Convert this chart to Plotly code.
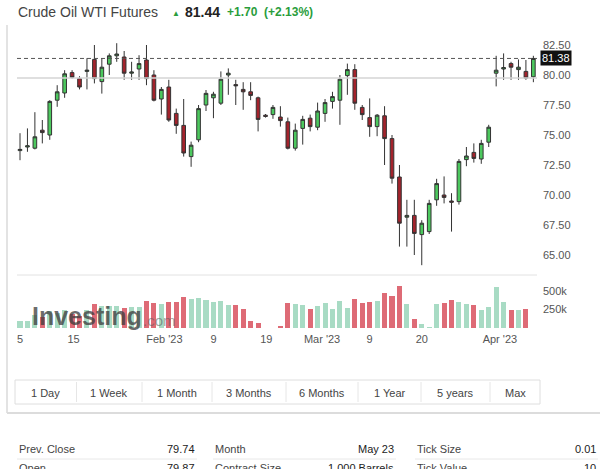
import plotly.graph_objects as go

# ---------------- data ----------------
opens = [73.7, 74.0, 73.9, 75.4, 75.0, 77.9, 78.5, 80.2, 79.7, 80.3,
         81.3, 79.45, 80.9, 81.6, 81.5, 80.15, 80.5, 81.25, 80.0, 78.0,
         79.0, 76.8, 75.8, 73.2, 74.6, 77.5, 78.1, 77.65, 80.0, 79.2,
         78.8, 78.6, 78.1, 76.65, 76.7, 76.5, 76.1, 73.9, 75.55, 76.4,
         75.65, 76.8, 77.8, 77.9, 79.95, 80.45, 77.3, 76.45, 75.7, 76.6,
         74.7, 71.5, 68.15, 68.3, 66.7, 66.95, 69.6, 70.0, 69.5, 69.45,
         72.95, 73.55, 73.0, 74.4, 80.15, 80.5, 80.95, 80.45, 80.3, 79.85]
highs = [75.15, 75.55, 76.9, 76.25, 77.9, 79.15, 80.4, 80.4, 79.9, 81.4,
         82.5, 81.4, 81.8, 82.65, 82.0, 81.1, 81.65, 82.5, 80.4, 79.0,
         79.6, 77.2, 78.0, 74.45, 77.5, 78.75, 78.6, 80.3, 80.55, 79.6,
         79.4, 79.4, 78.2, 76.75, 77.5, 77.4, 76.45, 75.95, 76.6, 76.7,
         77.7, 78.0, 78.6, 80.0, 80.95, 80.9, 77.5, 78.05, 76.75, 77.4,
         75.0, 72.5, 69.6, 69.6, 67.9, 69.6, 71.35, 71.55, 70.15, 73.0,
         74.0, 74.3, 74.6, 75.85, 81.6, 81.8, 81.1, 81.3, 81.25, 81.6]
lows = [72.9, 73.6, 73.8, 74.3, 74.6, 77.35, 78.1, 79.7, 78.8, 78.8,
        79.3, 78.45, 80.0, 81.1, 79.6, 79.6, 79.6, 79.15, 77.8, 76.7,
        76.1, 75.1, 73.2, 72.35, 74.4, 77.0, 76.4, 77.5, 78.35, 77.5,
        77.1, 77.9, 75.3, 76.45, 76.35, 75.7, 73.8, 73.7, 74.2, 75.3,
        75.4, 76.1, 77.2, 75.85, 78.35, 77.1, 76.25, 74.85, 74.9, 72.5,
        70.95, 65.7, 65.7, 65.0, 64.15, 66.75, 69.1, 69.3, 66.95, 69.2,
        72.4, 72.7, 72.6, 74.0, 79.05, 79.6, 79.6, 79.6, 79.6, 79.4]
closes = [73.8, 74.1, 74.85, 75.2, 77.8, 78.6, 80.1, 79.8, 79.0, 80.4,
          79.7, 80.65, 81.6, 81.75, 80.15, 80.25, 80.95, 79.7, 77.9, 78.8,
          76.25, 75.8, 73.5, 74.15, 77.2, 78.47, 78.4, 79.65, 80.15, 79.1,
          78.6, 78.3, 76.3, 76.55, 77.3, 76.2, 73.9, 75.4, 76.3, 75.7,
          77.0, 77.7, 78.2, 79.65, 80.45, 77.65, 76.7, 75.7, 76.65, 74.7,
          71.4, 67.65, 68.3, 66.8, 67.65, 69.3, 70.95, 69.8, 69.4, 72.8,
          73.25, 73.05, 74.3, 75.65, 80.4, 80.62, 80.65, 80.65, 79.74, 81.38]
volumes_k = [96, 90, 180, 150, 230, 200, 240, 190, 160, 250,
             324, 300, 300, 300, 277, 287, 287, 369, 332, 324,
             355, 355, 423, 392, 406, 378, 346, 360, 314, 310,
             255, 96, 72, 0, 0, 14, 332, 324, 310, 255,
             300, 337, 255, 369, 277, 392, 337, 346, 369, 469,
             437, 574, 324, 119, 50, 5, 324, 337, 378, 355,
             324, 314, 242, 287, 560, 346, 242, 242, 255, None]

date_tick_pos = [0, 7.2, 19.4, 26, 33.1, 40.6, 47, 54, 64.5, 69.9]
date_tick_text = ["5", "15", "Feb '23", "9", "19", "Mar '23", "9", "20", "Apr '23", "·"]
price_ticks = [65.0, 67.5, 70.0, 72.5, 75.0, 77.5, 80.0, 82.5]
vol_ticks = [250000, 500000]
vol_tick_text = ["250k", "500k"]
last_price = 81.38
prev_close = 79.74

buttons = ["1 Day", "1 Week", "1 Month", "3 Months", "6 Months", "1 Year", "5 years", "Max"]
table_row1 = [("Prev. Close", "79.74"), ("Month", "May 23"), ("Tick Size", "0.01")]
table_row2 = [("Open", "79.87"), ("Contract Size", "1,000 Barrels"), ("Tick Value", "10")]

# ---------------- geometry helpers ----------------
W, H = 600, 469
def fx(p):
    return p / W
def fy(p):
    return 1 - p / H

GREEN = "#4cc85e"
RED = "#a3232c"
VGREEN = "#a8dbc4"
VRED = "#de6b76"
TXT = "#555555"

idx = list(range(len(closes)))
volumes = [None if v is None else v * 1000 for v in volumes_k]
vcolors = [VGREEN if c >= o else VRED for o, c in zip(opens, closes)]

fig = go.Figure()
fig.add_trace(go.Candlestick(
    x=idx, open=opens, high=highs, low=lows, close=closes,
    increasing=dict(fillcolor=GREEN, line=dict(color="#333333", width=1)),
    decreasing=dict(fillcolor=RED, line=dict(color="#333333", width=1)),
    whiskerwidth=0, showlegend=False, hoverinfo="skip",
    xaxis="x", yaxis="y"))
fig.add_trace(go.Bar(
    x=idx, y=volumes, marker=dict(color=vcolors, line=dict(width=0)),
    width=0.68, showlegend=False, hoverinfo="skip", xaxis="x", yaxis="y2"))

# pixel layout
plot_l, plot_r = 17, 537
price_top, price_bot = 30, 275
vol_top, vol_bot = 282, 328
px_per_unit = 12.0        # pixels per dollar
y80 = 75                  # pixel of 80.00
ptop = 80 + (y80 - price_top) / px_per_unit
pbot = 80 - (price_bot - y80) / px_per_unit
vol_px_per_250k = 18.5
vmax = (vol_bot - vol_top) / vol_px_per_250k * 250000
step = 7.44
x0 = -(20 - plot_l) / step
x1 = x0 + (plot_r - plot_l) / step

axis_font = dict(family="Arial, Liberation Sans, sans-serif", size=11, color=TXT)

fig.update_layout(
    width=W, height=H, margin=dict(l=0, r=0, t=0, b=0),
    paper_bgcolor="white", plot_bgcolor="white",
    bargap=0,
    xaxis=dict(domain=[fx(plot_l), fx(plot_r)], range=[x0, x1], anchor="y2",
               tickvals=date_tick_pos, ticktext=date_tick_text, tickfont=axis_font,
               showgrid=False, zeroline=False, showline=False, ticks="",
               ticklabelstandoff=3,
               rangeslider=dict(visible=False), fixedrange=True),
    yaxis=dict(domain=[fy(price_bot), fy(price_top)], range=[pbot, ptop], side="right",
               anchor="x", tickvals=price_ticks, ticktext=[f"{v:.2f}" for v in price_ticks],
               tickfont=axis_font, showgrid=False, zeroline=False, showline=False,
               ticks="", ticklabelstandoff=5),
    yaxis2=dict(domain=[fy(vol_bot), fy(vol_top)], range=[0, vmax], side="right",
                anchor="x", tickvals=vol_ticks, ticktext=vol_tick_text, tickfont=axis_font,
                showgrid=False, zeroline=False, showline=False, ticks="",
                ticklabelstandoff=5),
    font=dict(family="Arial, Liberation Sans, sans-serif"),
)

shapes = []
# last price dashed line
shapes.append(dict(type="line", xref="paper", yref="y", x0=fx(plot_l), x1=fx(plot_r),
                   y0=last_price, y1=last_price, line=dict(color="#555", width=1, dash="4px,3px")))
# prev close line
shapes.append(dict(type="line", xref="paper", yref="y", x0=fx(plot_l), x1=fx(plot_r),
                   y0=prev_close, y1=prev_close, line=dict(color="#d4d4d4", width=1.5)))
# separator between panes
shapes.append(dict(type="line", xref="paper", yref="paper", x0=fx(plot_l), x1=fx(plot_r),
                   y0=fy(275), y1=fy(275), line=dict(color="#e2e2e2", width=1)))
# page container borders
shapes.append(dict(type="line", xref="paper", yref="paper", x0=fx(7), x1=fx(7),
                   y0=fy(25), y1=fy(413), line=dict(color="#e3e3e3", width=2)))
shapes.append(dict(type="line", xref="paper", yref="paper", x0=fx(7), x1=1,
                   y0=fy(413), y1=fy(413), line=dict(color="#dcdcdc", width=2)))
# buttons box
bx0, bx1, by0, by1 = 15, 540, 380, 404
shapes.append(dict(type="rect", xref="paper", yref="paper", x0=fx(bx0), x1=fx(bx1),
                   y0=fy(by1), y1=fy(by0), line=dict(color="#dedede", width=1),
                   fillcolor="white", layer="below"))
seps = [76.5, 142, 212, 286, 358, 421, 490]
for s in seps:
    shapes.append(dict(type="line", xref="paper", yref="paper", x0=fx(s), x1=fx(s),
                       y0=fy(by1 - 2), y1=fy(by0 + 2), line=dict(color="#e6e6e6", width=1)))
# table underlines
col_ranges = [(17, 197), (213, 396), (415, 598)]
for a, b in col_ranges:
    shapes.append(dict(type="line", xref="paper", yref="paper", x0=fx(a), x1=fx(b),
                       y0=fy(459), y1=fy(459), line=dict(color="#e8e8e8", width=1)))
fig.update_layout(shapes=shapes)

ann = []
# title
ann.append(dict(xref="paper", yref="paper", x=fx(16), y=fy(12), xanchor="left", yanchor="middle",
                text="Crude Oil WTI Futures", showarrow=False,
                font=dict(size=14, color="#444")))
ann.append(dict(xref="paper", yref="paper", x=fx(170), y=fy(13), xanchor="left", yanchor="middle",
                text="▲", showarrow=False, font=dict(size=8, color="#2a9d3c")))
ann.append(dict(xref="paper", yref="paper", x=fx(183), y=fy(12), xanchor="left", yanchor="middle",
                text="<b>81.44</b>", showarrow=False, font=dict(size=14, color="#222")))
ann.append(dict(xref="paper", yref="paper", x=fx(225), y=fy(12), xanchor="left", yanchor="middle",
                text="<b>+1.70  (+2.13%)</b>", showarrow=False, font=dict(size=12, color="#2a9d3c")))
# last price label
ann.append(dict(xref="paper", yref="y", x=fx(540), y=last_price, xanchor="left", yanchor="middle",
                text="81.38", showarrow=False, bgcolor="#111111", borderpad=1,
                font=dict(size=11, color="white")))
# watermark
ann.append(dict(xref="paper", yref="paper", x=fx(30), y=fy(316), xanchor="left", yanchor="middle",
                text="<b>Investing</b>", showarrow=False,
                font=dict(size=25, color="rgba(60,60,60,0.75)")))
ann.append(dict(xref="paper", yref="paper", x=fx(141), y=fy(320), xanchor="left", yanchor="middle",
                text=".com", showarrow=False,
                font=dict(size=15, color="rgba(90,90,90,0.55)")))
# buttons
edges = [bx0] + seps + [bx1]
for i, label in enumerate(buttons):
    cx = (edges[i] + edges[i + 1]) / 2
    ann.append(dict(xref="paper", yref="paper", x=fx(cx), y=fy(392.5), xanchor="center",
                    yanchor="middle", text=label, showarrow=False,
                    font=dict(size=11, color="#444")))
# table
label_x = [17, 213, 415]
value_x = [197, 396, 598]
for row, yy in ((table_row1, 449), (table_row2, 468)):
    for (lab, val), lx, vx in zip(row, label_x, value_x):
        ann.append(dict(xref="paper", yref="paper", x=fx(lx), y=fy(yy), xanchor="left",
                        yanchor="middle", text=lab, showarrow=False,
                        font=dict(size=11, color="#444")))
        ann.append(dict(xref="paper", yref="paper", x=fx(vx), y=fy(yy), xanchor="right",
                        yanchor="middle", text=val, showarrow=False,
                        font=dict(size=11, color="#222")))
fig.update_layout(annotations=ann)

fig.write_html("out.html", config={"displayModeBar": False})
